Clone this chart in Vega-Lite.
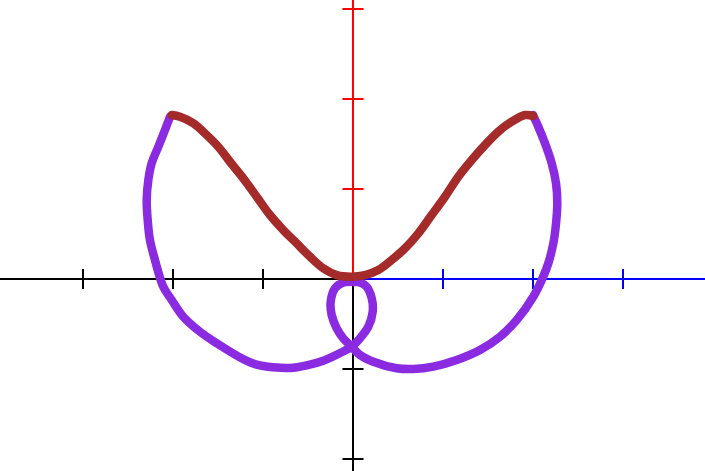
{
  "$schema": "https://vega.github.io/schema/vega-lite/v6.json",
  "width": 705,
  "height": 471,
  "padding": 0,
  "autosize": {"type": "none"},
  "background": "white",
  "config": {"view": {"stroke": null}},
  "datasets": {
    "axes": [
      {"part": "xneg", "x": -3.93, "x2": 0, "y": 0, "y2": 0},
      {"part": "xpos", "x": 0, "x2": 3.92, "y": 0, "y2": 0},
      {"part": "ypos", "x": 0, "x2": 0, "y": 0, "y2": 3.11},
      {"part": "yneg", "x": 0, "x2": 0, "y": -2.14, "y2": 0},
      {"part": "xneg", "x": -3, "x2": -3, "y": -0.111, "y2": 0.111},
      {"part": "xneg", "x": -2, "x2": -2, "y": -0.111, "y2": 0.111},
      {"part": "xneg", "x": -1, "x2": -1, "y": -0.111, "y2": 0.111},
      {"part": "xpos", "x": 1, "x2": 1, "y": -0.111, "y2": 0.111},
      {"part": "xpos", "x": 2, "x2": 2, "y": -0.111, "y2": 0.111},
      {"part": "xpos", "x": 3, "x2": 3, "y": -0.111, "y2": 0.111},
      {"part": "ypos", "x": -0.117, "x2": 0.117, "y": 1, "y2": 1},
      {"part": "ypos", "x": -0.117, "x2": 0.117, "y": 2, "y2": 2},
      {"part": "ypos", "x": -0.117, "x2": 0.117, "y": 3, "y2": 3},
      {"part": "yneg", "x": -0.117, "x2": 0.117, "y": -1, "y2": -1},
      {"part": "yneg", "x": -0.117, "x2": 0.117, "y": -2, "y2": -2}
    ],
    "purple": [
      {"i": 1, "x": 2.000, "y": 1.822},
      {"i": 2, "x": 2.059, "y": 1.692},
      {"i": 3, "x": 2.133, "y": 1.508},
      {"i": 4, "x": 2.208, "y": 1.286},
      {"i": 5, "x": 2.256, "y": 1.063},
      {"i": 6, "x": 2.270, "y": 0.841},
      {"i": 7, "x": 2.256, "y": 0.619},
      {"i": 8, "x": 2.226, "y": 0.397},
      {"i": 9, "x": 2.170, "y": 0.174},
      {"i": 10, "x": 2.097, "y": -0.011},
      {"i": 11, "x": 2.003, "y": -0.197},
      {"i": 12, "x": 1.819, "y": -0.456},
      {"i": 13, "x": 1.633, "y": -0.641},
      {"i": 14, "x": 1.411, "y": -0.789},
      {"i": 15, "x": 1.152, "y": -0.900},
      {"i": 16, "x": 0.892, "y": -0.974},
      {"i": 17, "x": 0.670, "y": -1.000},
      {"i": 18, "x": 0.486, "y": -0.992},
      {"i": 19, "x": 0.226, "y": -0.919},
      {"i": 20, "x": 0.078, "y": -0.844},
      {"i": 21, "x": -0.014, "y": -0.752},
      {"i": 22, "x": -0.108, "y": -0.659},
      {"i": 23, "x": -0.181, "y": -0.548},
      {"i": 24, "x": -0.237, "y": -0.400},
      {"i": 25, "x": -0.248, "y": -0.252},
      {"i": 26, "x": -0.200, "y": -0.103},
      {"i": 27, "x": -0.122, "y": -0.044},
      {"i": 28, "x": -0.014, "y": -0.030},
      {"i": 29, "x": 0.078, "y": -0.039},
      {"i": 30, "x": 0.152, "y": -0.086},
      {"i": 31, "x": 0.208, "y": -0.214},
      {"i": 32, "x": 0.219, "y": -0.363},
      {"i": 33, "x": 0.170, "y": -0.530},
      {"i": 34, "x": 0.078, "y": -0.659},
      {"i": 35, "x": -0.014, "y": -0.752},
      {"i": 36, "x": -0.144, "y": -0.822},
      {"i": 37, "x": -0.330, "y": -0.908},
      {"i": 38, "x": -0.514, "y": -0.959},
      {"i": 39, "x": -0.700, "y": -0.989},
      {"i": 40, "x": -0.886, "y": -0.981},
      {"i": 41, "x": -1.070, "y": -0.952},
      {"i": 42, "x": -1.222, "y": -0.889},
      {"i": 43, "x": -1.514, "y": -0.714},
      {"i": 44, "x": -1.700, "y": -0.586},
      {"i": 45, "x": -1.886, "y": -0.419},
      {"i": 46, "x": -2.014, "y": -0.233},
      {"i": 47, "x": -2.108, "y": -0.086},
      {"i": 48, "x": -2.200, "y": 0.211},
      {"i": 49, "x": -2.256, "y": 0.433},
      {"i": 50, "x": -2.281, "y": 0.656},
      {"i": 51, "x": -2.292, "y": 0.878},
      {"i": 52, "x": -2.274, "y": 1.100},
      {"i": 53, "x": -2.237, "y": 1.286},
      {"i": 54, "x": -2.163, "y": 1.470},
      {"i": 55, "x": -2.089, "y": 1.656},
      {"i": 56, "x": -2.033, "y": 1.803}
    ],
    "brown": [
      {"i": 1, "x": -2.014, "y": 1.822},
      {"i": 2, "x": -1.922, "y": 1.803},
      {"i": 3, "x": -1.774, "y": 1.730},
      {"i": 4, "x": -1.626, "y": 1.600},
      {"i": 5, "x": -1.497, "y": 1.470},
      {"i": 6, "x": -1.367, "y": 1.303},
      {"i": 7, "x": -1.219, "y": 1.119},
      {"i": 8, "x": -1.070, "y": 0.914},
      {"i": 9, "x": -0.922, "y": 0.711},
      {"i": 10, "x": -0.774, "y": 0.544},
      {"i": 11, "x": -0.626, "y": 0.397},
      {"i": 12, "x": -0.478, "y": 0.248},
      {"i": 13, "x": -0.330, "y": 0.119},
      {"i": 14, "x": -0.181, "y": 0.044},
      {"i": 15, "x": -0.022, "y": 0.026},
      {"i": 16, "x": 0.133, "y": 0.044},
      {"i": 17, "x": 0.281, "y": 0.100},
      {"i": 18, "x": 0.430, "y": 0.211},
      {"i": 19, "x": 0.578, "y": 0.341},
      {"i": 20, "x": 0.726, "y": 0.508},
      {"i": 21, "x": 0.874, "y": 0.711},
      {"i": 22, "x": 1.022, "y": 0.914},
      {"i": 23, "x": 1.170, "y": 1.137},
      {"i": 24, "x": 1.319, "y": 1.322},
      {"i": 25, "x": 1.467, "y": 1.489},
      {"i": 26, "x": 1.614, "y": 1.637},
      {"i": 27, "x": 1.763, "y": 1.748},
      {"i": 28, "x": 1.911, "y": 1.822},
      {"i": 29, "x": 2.003, "y": 1.811}
    ]
  },
  "layer": [
    {
      "data": {"name": "axes"},
      "mark": {"type": "rule", "strokeWidth": 2},
      "encoding": {
        "x": {"field": "x", "type": "quantitative", "scale": {"domain": [-3.922, 3.911], "nice": false, "zero": false}, "axis": null},
        "x2": {"field": "x2"},
        "y": {"field": "y", "type": "quantitative", "scale": {"domain": [-2.133, 3.1], "nice": false, "zero": false}, "axis": null},
        "y2": {"field": "y2"},
        "color": {"field": "part", "type": "nominal", "scale": {"domain": ["xneg", "xpos", "ypos", "yneg"], "range": ["#000000", "#0000ff", "#ff0000", "#000000"]}, "legend": null}
      }
    },
    {
      "data": {"name": "purple"},
      "mark": {"type": "line", "color": "#8a2be2", "strokeWidth": 8.5, "strokeCap": "round", "strokeJoin": "round", "interpolate": "catmull-rom"},
      "encoding": {
        "x": {"field": "x", "type": "quantitative"},
        "y": {"field": "y", "type": "quantitative"},
        "order": {"field": "i", "type": "quantitative"}
      }
    },
    {
      "data": {"name": "brown"},
      "mark": {"type": "line", "color": "#a52a2a", "strokeWidth": 8.5, "strokeCap": "round", "strokeJoin": "round", "interpolate": "catmull-rom"},
      "encoding": {
        "x": {"field": "x", "type": "quantitative"},
        "y": {"field": "y", "type": "quantitative"},
        "order": {"field": "i", "type": "quantitative"}
      }
    }
  ]
}
